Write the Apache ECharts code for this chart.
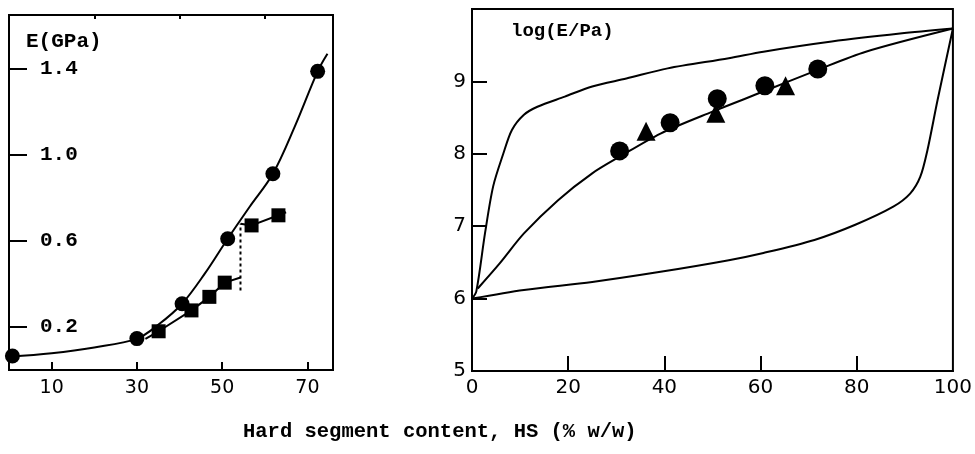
<!DOCTYPE html>
<html>
<head>
<meta charset="utf-8">
<script src="https://cdn.jsdelivr.net/npm/echarts@6/dist/echarts.min.js"></script>
<style>
  html, body { margin: 0; padding: 0; background: #fff; }
  #chart { width: 975px; height: 454px; }
</style>
</head>
<body>
<div id="chart"></div>
<script>
// ---- Left panel: modulus E (GPa) vs hard segment content ----
const leftCircleHS = [0.8, 30, 40.6, 51.3, 61.9, 72.4];
const leftCircleE  = [0.065, 0.146, 0.308, 0.61, 0.912, 1.388];
const leftSquareHS = [35.1, 42.8, 47, 50.6, 56.9, 63.2];
const leftSquareE  = [0.18, 0.277, 0.34, 0.406, 0.672, 0.719];

// fitted curve through the circles
const leftCurveHS = [0, 10, 20, 30, 35, 40.6, 46, 51.3, 56.5, 61.9, 67, 72.4, 74.7];
const leftCurveE  = [0.062, 0.078, 0.105, 0.146, 0.21, 0.308, 0.45, 0.61, 0.76, 0.912, 1.13, 1.388, 1.47];

// connecting line through the squares, split by the step
const sqLowHS  = [32, 35.1, 42.8, 47, 50.6, 54.3];
const sqLowE   = [0.145, 0.18, 0.277, 0.34, 0.406, 0.43];
const sqHighHS = [54.3, 56.9, 63.2, 65];
const sqHighE  = [0.68, 0.672, 0.719, 0.733];
const stepHS   = [54.3, 54.3];
const stepE    = [0.37, 0.68];

const leftXLabels = [10, 30, 50, 70];
const leftXMinor  = [20, 40, 60];
const leftYTicks  = [0.2, 0.6, 1.0, 1.4];

// ---- Right panel: log(E/Pa) vs hard segment content ----
const rightCircleHS   = [30.7, 41.2, 51.0, 60.9, 71.9];
const rightCircleLogE = [8.04, 8.43, 8.76, 8.94, 9.17];
const rightTriHS      = [36.2, 50.7, 65.2];
const rightTriLogE    = [8.31, 8.56, 8.94];

const upperHS   = [0, 0.9, 2.7, 4.4, 6.5, 8.3, 10.8, 13.6, 19.3, 25, 32.1, 40.7, 53.4, 60.6, 74.8, 89, 100];
const upperLogE = [6.0, 6.1, 6.9, 7.55, 8.0, 8.33, 8.54, 8.65, 8.79, 8.93, 9.04, 9.18, 9.32, 9.41, 9.55, 9.66, 9.73];
const middleHS   = [1.2, 5.8, 10.8, 17.9, 25, 30.7, 39.2, 49.9, 60.6, 71.9, 81.9, 100];
const middleLogE = [6.14, 6.49, 6.9, 7.36, 7.73, 7.96, 8.28, 8.58, 8.86, 9.16, 9.41, 9.73];
const lowerHS   = [0, 10.8, 25, 39.2, 53.4, 60.6, 71.2, 79.7, 87.6, 91.1, 93.2, 94.7, 96.8, 100];
const lowerLogE = [6.0, 6.12, 6.23, 6.37, 6.53, 6.63, 6.81, 7.02, 7.27, 7.45, 7.68, 8.05, 8.74, 9.73];

const rightXTicks  = [20, 40, 60, 80];
const rightXLabels = [0, 20, 40, 60, 80, 100];
const rightYTicks  = [6, 7, 8, 9];
const rightYLabels = [5, 6, 7, 8, 9];

const pair = (xs, ys) => xs.map((x, i) => [x, ys[i]]);

const INK = '#000';
const monoFont = '"Liberation Mono", "DejaVu Sans Mono", monospace';
const sansFont = '"DejaVu Sans", "Liberation Sans", sans-serif';

const chart = echarts.init(document.getElementById('chart'), null, { renderer: 'canvas' });

const solid = { color: INK, width: 2 };
const dot = { color: INK, opacity: 1 };

const option = {
  animation: false,
  backgroundColor: '#fff',
  grid: [
    { left: 9, top: 15, width: 324, height: 355, show: true, borderColor: INK, borderWidth: 2, backgroundColor: 'transparent' },
    { left: 472, top: 9, width: 496, height: 362, show: true, borderColor: INK, borderWidth: 2, backgroundColor: 'transparent' }
  ],
  xAxis: [
    {
      gridIndex: 0, type: 'value', min: 0, max: 76,
      axisLine: { show: true, lineStyle: solid },
      axisTick: { show: true, inside: true, length: 8, customValues: leftXLabels, lineStyle: solid },
      axisLabel: { customValues: leftXLabels, margin: 9, color: INK, fontFamily: sansFont, fontSize: 19 },
      splitLine: { show: false }
    },
    {
      gridIndex: 0, type: 'value', min: 0, max: 76,
      axisLine: { show: false },
      axisTick: { show: true, inside: true, length: 4, customValues: leftXMinor, lineStyle: solid },
      axisLabel: { show: false },
      splitLine: { show: false }
    },
    {
      gridIndex: 1, type: 'value', min: 0, max: 100,
      axisLine: { show: true, lineStyle: solid },
      axisTick: { show: true, inside: true, length: 15, customValues: rightXTicks, lineStyle: solid },
      axisLabel: { customValues: rightXLabels, margin: 7, color: INK, fontFamily: sansFont, fontSize: 20 },
      splitLine: { show: false }
    }
  ],
  yAxis: [
    {
      gridIndex: 0, type: 'value', min: 0, max: 1.65,
      axisLine: { show: true, lineStyle: solid },
      axisTick: { show: true, inside: true, length: 18, customValues: leftYTicks, lineStyle: solid },
      axisLabel: {
        inside: true, customValues: leftYTicks, margin: 31, color: INK,
        fontFamily: monoFont, fontSize: 21, fontWeight: 'bold',
        formatter: v => v.toFixed(1)
      },
      splitLine: { show: false }
    },
    {
      gridIndex: 1, type: 'value', min: 5, max: 10,
      axisLine: { show: true, lineStyle: solid },
      axisTick: { show: true, inside: true, length: 15, customValues: rightYTicks, lineStyle: solid },
      axisLabel: { customValues: rightYLabels, margin: 6, color: INK, fontFamily: sansFont, fontSize: 20 },
      splitLine: { show: false }
    }
  ],
  graphic: [
    { type: 'text', left: 26, top: 31, style: { text: 'E(GPa)', fill: INK, font: 'bold 21px ' + monoFont } },
    { type: 'text', left: 511, top: 22, style: { text: 'log(E/Pa)', fill: INK, font: 'bold 19px ' + monoFont } },
    { type: 'text', left: 243, top: 421, style: { text: 'Hard segment content, HS (% w/w)', fill: INK, font: 'bold 20.5px ' + monoFont } }
  ],
  series: [
    // left panel
    { type: 'line', xAxisIndex: 0, yAxisIndex: 0, data: pair(leftCurveHS, leftCurveE), smooth: 0.35, showSymbol: false, lineStyle: solid, z: 2 },
    { type: 'line', xAxisIndex: 0, yAxisIndex: 0, data: pair(sqLowHS, sqLowE), showSymbol: false, lineStyle: solid, z: 2 },
    { type: 'line', xAxisIndex: 0, yAxisIndex: 0, data: pair(sqHighHS, sqHighE), showSymbol: false, lineStyle: solid, z: 2 },
    { type: 'line', xAxisIndex: 0, yAxisIndex: 0, data: pair(stepHS, stepE), showSymbol: false, lineStyle: { color: INK, width: 2, type: [3, 3] }, z: 2 },
    { type: 'scatter', xAxisIndex: 0, yAxisIndex: 0, data: pair(leftCircleHS, leftCircleE), symbol: 'circle', symbolSize: 15, itemStyle: dot, z: 3 },
    { type: 'scatter', xAxisIndex: 0, yAxisIndex: 0, data: pair(leftSquareHS, leftSquareE), symbol: 'rect', symbolSize: 14, itemStyle: dot, z: 3 },
    // right panel
    { type: 'line', xAxisIndex: 2, yAxisIndex: 1, data: pair(upperHS, upperLogE), smooth: 0.3, showSymbol: false, lineStyle: solid, z: 2 },
    { type: 'line', xAxisIndex: 2, yAxisIndex: 1, data: pair(middleHS, middleLogE), smooth: 0.3, showSymbol: false, lineStyle: solid, z: 2 },
    { type: 'line', xAxisIndex: 2, yAxisIndex: 1, data: pair(lowerHS, lowerLogE), smooth: 0.3, showSymbol: false, lineStyle: solid, z: 2 },
    { type: 'scatter', xAxisIndex: 2, yAxisIndex: 1, data: pair(rightCircleHS, rightCircleLogE), symbol: 'circle', symbolSize: 19, itemStyle: dot, z: 3 },
    { type: 'scatter', xAxisIndex: 2, yAxisIndex: 1, data: pair(rightTriHS, rightTriLogE), symbol: 'triangle', symbolSize: 19, itemStyle: dot, z: 3 }
  ]
};

chart.setOption(option);
</script>
</body>
</html>
